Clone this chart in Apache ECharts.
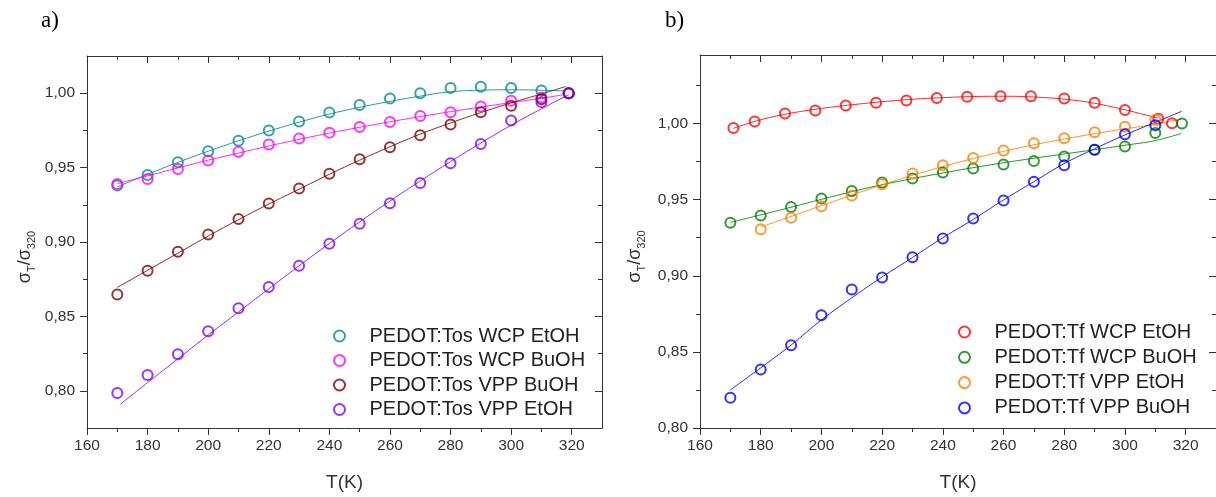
<!DOCTYPE html>
<html>
<head>
<meta charset="utf-8">
<script src="https://cdn.jsdelivr.net/npm/echarts@6/dist/echarts.min.js"></script>
<style>
html,body{margin:0;padding:0;background:#fff;}
#chart{width:1216px;height:497px;}
</style>
</head>
<body>
<div id="chart"></div>
<script>
// ---------- tick labels ----------
const xMajorTicks = [160, 180, 200, 220, 240, 260, 280, 300, 320];
const xMinorTicks = [170, 190, 210, 230, 250, 270, 290, 310];
const yMajorTicks = [0.80, 0.85, 0.90, 0.95, 1.00];
const yMinorTicksA = [0.825, 0.875, 0.925, 0.975];
const yMinorTicksB = [0.825, 0.875, 0.925, 0.975, 1.025];

// ---------- panel a) PEDOT:Tos ----------
const tosT = [170, 180, 190, 200, 210, 220, 230, 240, 250, 260, 270, 280, 290, 300, 310, 319];
const tosWcpEtoh = [0.938, 0.945, 0.9536, 0.961, 0.968, 0.975, 0.981, 0.987, 0.992, 0.9965, 1.000, 1.0035, 1.0044, 1.0035, 1.0018, 1.000];
const tosWcpBuoh = [0.939, 0.9424, 0.949, 0.9548, 0.9607, 0.9656, 0.9695, 0.9735, 0.9773, 0.9806, 0.9846, 0.9872, 0.991, 0.995, 0.9971, 1.000];
const tosVppBuoh = [0.8647, 0.8806, 0.8934, 0.905, 0.9154, 0.9258, 0.936, 0.9459, 0.9556, 0.9636, 0.9717, 0.979, 0.9872, 0.9916, 0.996, 1.000];
const tosVppEtoh = [0.7985, 0.8106, 0.8245, 0.840, 0.8554, 0.8697, 0.8841, 0.8989, 0.9122, 0.926, 0.9397, 0.953, 0.9658, 0.9817, 0.994, 1.000];

const tosFitT = [170, 180, 190, 200, 210, 220, 230, 240, 250, 260, 270, 280, 290, 300, 310, 318];
const tosWcpEtohFit = [0.937, 0.9455, 0.9535, 0.961, 0.968, 0.9745, 0.9805, 0.986, 0.9905, 0.9945, 0.998, 1.001, 1.002, 1.0023, 1.002, 1.0015];
const tosWcpBuohFit = [0.9392, 0.9445, 0.9498, 0.955, 0.9598, 0.9645, 0.969, 0.9732, 0.9771, 0.9808, 0.9843, 0.9876, 0.9907, 0.9937, 0.9966, 0.9992];
const tosVppBuohFit = [0.8695, 0.881, 0.8925, 0.904, 0.915, 0.9255, 0.9355, 0.9455, 0.955, 0.964, 0.9725, 0.980, 0.987, 0.9935, 0.9995, 1.0045];
const tosVppEtohFitT = [171, 180, 190, 200, 210, 220, 230, 240, 250, 260, 270, 280, 290, 300, 310, 319];
const tosVppEtohFit = [0.791, 0.8055, 0.8215, 0.8375, 0.853, 0.8685, 0.884, 0.899, 0.9135, 0.9275, 0.941, 0.954, 0.9665, 0.9785, 0.9895, 0.999];

// ---------- panel b) PEDOT:Tf ----------
const tfWcpEtohT = [171, 178, 188, 198, 208, 218, 228, 238, 248, 259, 269, 280, 290, 300, 311, 315.5];
const tfWcpEtoh = [0.997, 1.0013, 1.0065, 1.0086, 1.0118, 1.0136, 1.0151, 1.0168, 1.0175, 1.0179, 1.0179, 1.0164, 1.0136, 1.0088, 1.0032, 1.0002];
const tfWcpBuohT = [170, 180, 190, 200, 210, 220, 230, 240, 250, 260, 270, 280, 290, 300, 310, 318.8];
const tfWcpBuoh = [0.9348, 0.9396, 0.9452, 0.9508, 0.9557, 0.9612, 0.9639, 0.9678, 0.9704, 0.973, 0.9754, 0.9784, 0.9827, 0.9849, 0.9938, 1.000];
const tfVppEtohT = [180, 190, 200, 210, 220, 230, 240, 250, 260, 270, 280, 290, 300, 310];
const tfVppEtoh = [0.9305, 0.9381, 0.9456, 0.9527, 0.9601, 0.9672, 0.9726, 0.9773, 0.9823, 0.9871, 0.9903, 0.9942, 0.9978, 1.0025];
const tfVppBuohT = [170, 180, 190, 200, 210, 220, 230, 240, 250, 260, 270, 280, 290, 300, 310];
const tfVppBuoh = [0.8198, 0.8384, 0.8544, 0.874, 0.891, 0.8988, 0.9122, 0.9245, 0.9376, 0.9495, 0.9618, 0.9726, 0.9827, 0.993, 0.9989];

const tfWcpEtohFitT = [171, 180, 190, 200, 210, 220, 230, 240, 250, 260, 270, 280, 290, 300, 311];
const tfWcpEtohFit = [0.9968, 1.0025, 1.0068, 1.0099, 1.0123, 1.0143, 1.0159, 1.0170, 1.0177, 1.0179, 1.0174, 1.016, 1.0133, 1.009, 1.0035];
const tfWcpBuohFitT = [170, 180, 190, 200, 210, 220, 230, 240, 250, 260, 270, 280, 290, 300, 310, 318.6];
const tfWcpBuohFit = [0.935, 0.940, 0.945, 0.9502, 0.9552, 0.9598, 0.9638, 0.9675, 0.971, 0.9742, 0.9772, 0.980, 0.9828, 0.9857, 0.9888, 0.9935];
const tfVppEtohFitT = [180, 190, 200, 210, 220, 230, 240, 250, 260, 270, 280, 290, 300, 310, 318.6];
const tfVppEtohFit = [0.932, 0.939, 0.946, 0.953, 0.9597, 0.966, 0.9717, 0.977, 0.9817, 0.986, 0.9898, 0.9933, 0.9965, 0.9995, 1.003];
const tfVppBuohFitT = [170, 180, 190, 200, 210, 220, 230, 240, 250, 260, 270, 280, 290, 300, 310, 318.7];
const tfVppBuohFit = [0.825, 0.8395, 0.8545, 0.871, 0.8855, 0.8992, 0.912, 0.925, 0.937, 0.9498, 0.9618, 0.9737, 0.9834, 0.9925, 1.0008, 1.008];

// ---------- build ----------
const FONT = 'Liberation Sans, Arial, sans-serif';
const AX = '#333';
const zip = (xs, ys) => xs.map((x, i) => [x, ys[i]]);
const fmtY = v => v.toFixed(2).replace('.', ',');

const groups = [
  {grid: 0, yMin: 0.775, yMax: 1.025, yMinor: yMinorTicksA, items: [
    {name: 'PEDOT:Tos WCP EtOH', color: '#008B8B', T: tosT, v: tosWcpEtoh, fT: tosFitT, f: tosWcpEtohFit},
    {name: 'PEDOT:Tos WCP BuOH', color: '#FF00FF', T: tosT, v: tosWcpBuoh, fT: tosFitT, f: tosWcpBuohFit},
    {name: 'PEDOT:Tos VPP BuOH', color: '#800000', T: tosT, v: tosVppBuoh, fT: tosFitT, f: tosVppBuohFit},
    {name: 'PEDOT:Tos VPP EtOH', color: '#8000FF', T: tosT, v: tosVppEtoh, fT: tosVppEtohFitT, f: tosVppEtohFit}
  ]},
  {grid: 1, yMin: 0.80, yMax: 1.045, yMinor: yMinorTicksB, items: [
    {name: 'PEDOT:Tf WCP EtOH', color: '#FF0000', T: tfWcpEtohT, v: tfWcpEtoh, fT: tfWcpEtohFitT, f: tfWcpEtohFit},
    {name: 'PEDOT:Tf WCP BuOH', color: '#008000', T: tfWcpBuohT, v: tfWcpBuoh, fT: tfWcpBuohFitT, f: tfWcpBuohFit},
    {name: 'PEDOT:Tf VPP EtOH', color: '#FF8000', T: tfVppEtohT, v: tfVppEtoh, fT: tfVppEtohFitT, f: tfVppEtohFit},
    {name: 'PEDOT:Tf VPP BuOH', color: '#0000FF', T: tfVppBuohT, v: tfVppBuoh, fT: tfVppBuohFitT, f: tfVppBuohFit}
  ]}
];

const xAxis = [], yAxis = [], series = [];
const yTitle = '{s|σ}{sub|T}{s|/σ}{sub|320}';
groups.forEach(g => {
  const gi = g.grid;
  const base = {type: 'value', gridIndex: gi, splitLine: {show: false}};
  const xb = {...base, min: 160, max: 330};
  const yb = {...base, min: g.yMin, max: g.yMax};
  const mainX = xAxis.length;
  xAxis.push({...xb, position: 'bottom',
    axisLine: {show: true, lineStyle: {color: AX, width: 1}},
    axisTick: {show: true, inside: false, length: 7, customValues: xMajorTicks, lineStyle: {color: AX}},
    axisLabel: {show: true, customValues: xMajorTicks, margin: 10, color: '#333', fontSize: 15.5, fontFamily: FONT},
    name: 'T(K)', nameLocation: 'middle', nameGap: 45,
    nameTextStyle: {fontSize: 19, color: '#333', fontFamily: FONT}});
  xAxis.push({...xb, position: 'bottom', axisLine: {show: false},
    axisTick: {show: true, inside: false, length: 4, customValues: xMinorTicks, lineStyle: {color: AX}},
    axisLabel: {show: false}});
  xAxis.push({...xb, position: 'top', axisLine: {show: true, lineStyle: {color: AX, width: 1}},
    axisTick: {show: true, inside: true, length: 7, customValues: xMajorTicks, lineStyle: {color: AX}},
    axisLabel: {show: false}});
  xAxis.push({...xb, position: 'top', axisLine: {show: false},
    axisTick: {show: true, inside: true, length: 4, customValues: xMinorTicks, lineStyle: {color: AX}},
    axisLabel: {show: false}});
  const mainY = yAxis.length;
  yAxis.push({...yb, position: 'left',
    axisLine: {show: true, lineStyle: {color: AX, width: 1}},
    axisTick: {show: true, inside: false, length: 7, customValues: yMajorTicks, lineStyle: {color: AX}},
    axisLabel: {show: true, customValues: yMajorTicks, formatter: fmtY, margin: 12, color: '#333', fontSize: 15.5, fontFamily: FONT},
    name: yTitle, nameLocation: 'middle', nameRotate: 90, nameGap: gi === 0 ? 50 : 53,
    nameTextStyle: {color: '#333', fontFamily: FONT, padding: [0, 30, 0, 0],
      rich: {s: {fontSize: 18, fontFamily: FONT, color: '#333', lineHeight: 24, verticalAlign: 'middle'},
             sub: {fontSize: 11, fontFamily: FONT, color: '#333', lineHeight: 12, verticalAlign: 'bottom'}}}});
  yAxis.push({...yb, position: 'left', axisLine: {show: false},
    axisTick: {show: true, inside: false, length: 4, customValues: g.yMinor, lineStyle: {color: AX}},
    axisLabel: {show: false}});
  yAxis.push({...yb, position: 'right', axisLine: {show: true, lineStyle: {color: AX, width: 1}},
    axisTick: {show: true, inside: true, length: 7, customValues: yMajorTicks, lineStyle: {color: AX}},
    axisLabel: {show: false}});
  yAxis.push({...yb, position: 'right', axisLine: {show: false},
    axisTick: {show: true, inside: true, length: 4, customValues: g.yMinor, lineStyle: {color: AX}},
    axisLabel: {show: false}});

  g.items.forEach(it => {
    series.push({type: 'line', name: it.name + ' fit', xAxisIndex: mainX, yAxisIndex: mainY,
      data: zip(it.fT, it.f), smooth: 0.4, showSymbol: false, symbol: 'none', silent: true, z: 2,
      lineStyle: {color: it.color, width: 1, opacity: 0.85}});
    series.push({type: 'scatter', name: it.name, xAxisIndex: mainX, yAxisIndex: mainY,
      data: zip(it.T, it.v), symbol: 'circle', symbolSize: 10, z: 3,
      itemStyle: {color: 'rgba(255,255,255,0)', borderColor: it.color, borderWidth: 2}});
  });
});

const legendOf = (g, left, top, gap) => ({
  orient: 'vertical', left: left, top: top, itemWidth: 50, itemHeight: 11, itemGap: gap,
  textStyle: {fontSize: 20, color: '#222', fontFamily: FONT},
  data: g.items.map(it => ({name: it.name, icon: 'circle',
    itemStyle: {color: 'rgba(255,255,255,0)', borderColor: it.color, borderWidth: 2}}))
});

const option = {
  animation: false,
  backgroundColor: '#fff',
  grid: [
    {left: 87, top: 56, width: 515, height: 378},
    {left: 700, top: 55, width: 516, height: 378}
  ],
  xAxis, yAxis, series,
  legend: [legendOf(groups[0], 328, 321, 4.5), legendOf(groups[1], 953, 317, 5.3)],
  graphic: [
    {type: 'text', left: 41, top: 9, style: {text: 'a)', fontSize: 23, fontFamily: 'Liberation Serif, DejaVu Serif, serif', fill: '#000'}},
    {type: 'text', left: 665, top: 9, style: {text: 'b)', fontSize: 23, fontFamily: 'Liberation Serif, DejaVu Serif, serif', fill: '#000'}}
  ]
};

const chart = echarts.init(document.getElementById('chart'), null, {renderer: 'canvas'});
chart.setOption(option);
</script>
</body>
</html>
